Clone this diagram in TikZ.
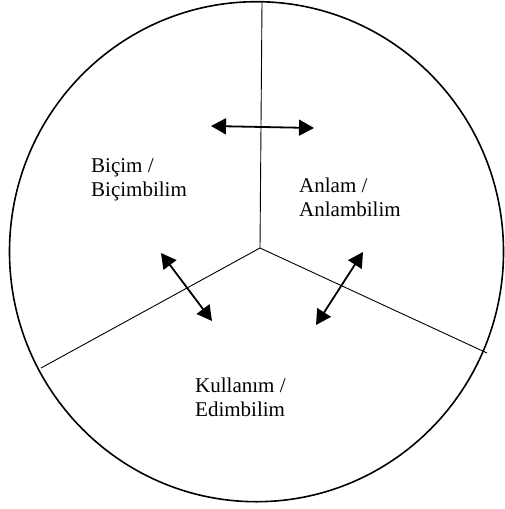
\documentclass[tikz,border=0pt]{standalone}
\usepackage{fontspec}
\setmainfont{Liberation Serif}
\usetikzlibrary{arrows.meta}
\begin{document}
\begin{tikzpicture}[x=1pt, y=-1pt]
\useasboundingbox (0,0) rectangle (504,509);
\tikzset{lbl/.style={anchor=base west, inner sep=0pt, align=left, font=\fontsize{21}{24}\selectfont},
  twoway/.style={line width=1.8pt, {Triangle[length=15pt, width=16pt]}-{Triangle[length=15pt, width=16pt]}}}
\draw[line width=1.6pt] (256.5,251.7) ellipse [x radius=247, y radius=250];
\coordinate (mid) at (260,248);
\coordinate (top) at (262,3);
\coordinate (lft) at (41,368);
\coordinate (rgt) at (487,353);
\draw[line width=0.9pt](mid) -- (top);
\draw[line width=0.9pt](mid) -- (lft);
\draw[line width=0.9pt](mid) -- (rgt);
\node[lbl] (bicim) at (91,196){Biçim /\\Biçimbilim};
\node[lbl] (anlam) at (299,216){Anlam /\\Anlambilim};
\node[lbl] (kullanim) at (195,416){Kullanım /\\Edimbilim};
\coordinate (a0) at (211,126);
\coordinate (a1) at (314,128);
\coordinate (b0) at (161,253);
\coordinate (b1) at (212,321);
\coordinate (c0) at (363,252);
\coordinate (c1) at (316,325);
\draw[twoway](a0) -- (a1);
\draw[twoway](b0) -- (b1);
\draw[twoway](c0) -- (c1);
\end{tikzpicture}
\end{document}
